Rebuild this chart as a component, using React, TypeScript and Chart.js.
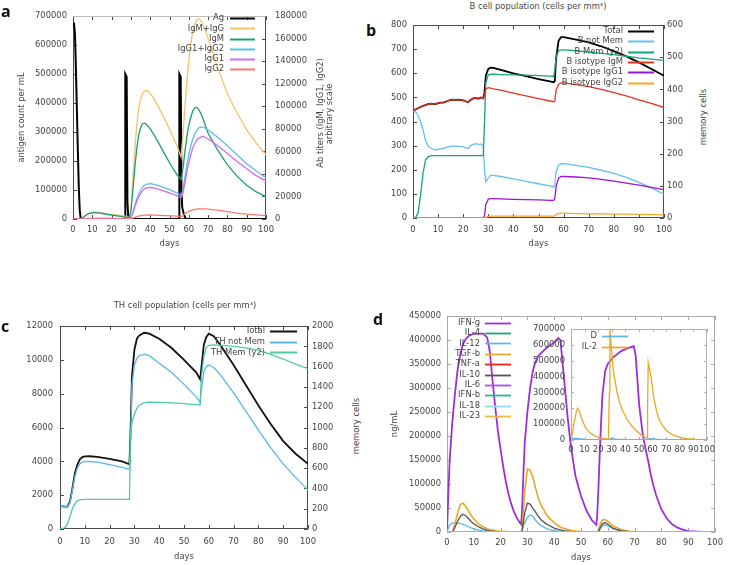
import React, { useEffect, useRef } from 'react';
import { Chart, registerables } from 'chart.js';

Chart.register(...registerables);

const FONT = "'DejaVu Sans', 'Liberation Sans', sans-serif";
const FS = 8.4;
const TXT = '#444444';

const dayTicks = [0, 10, 20, 30, 40, 50, 60, 70, 80, 90, 100];

// ---------------- Panel a ----------------
const aLeftTicks = [0, 100000, 200000, 300000, 400000, 500000, 600000, 700000];
const aRightTicks = [0, 20000, 40000, 60000, 80000, 100000, 120000, 140000, 160000, 180000];
const agDays = [0, 0.5, 1, 1.5, 2, 2.5, 3, 3.5, 4, 27, 27.1, 27.8, 28.2, 28.6, 29.2, 55, 55.1, 55.8, 56.2, 56.6, 57.5, 58.5, 100];
const agValues = [670000, 677000, 640000, 520000, 380000, 240000, 110000, 30000, 0, 0, 500000, 490000, 60000, 10000, 0, 0, 500000, 490000, 100000, 40000, 15000, 0, 0];
const abDays = [0, 4, 6, 8, 11, 14, 18, 22, 27, 28, 29, 30, 31, 32, 33, 34, 35, 36, 37, 38, 40, 42, 45, 48, 51, 54, 56, 57, 58, 59, 60, 61, 62, 63, 64, 65, 66, 67, 68, 70, 72, 75, 80, 85, 90, 95, 100];
const igmIggValues = [0, 0, 2500, 5000, 6200, 5800, 4600, 3600, 2500, 1600, 1000, 8000, 35000, 60000, 82000, 98000, 106000, 111000, 113500, 114000, 111500, 106500, 97000, 87000, 76000, 64000, 55000, 75000, 100000, 122000, 140000, 155000, 166000, 172000, 176000, 177500, 176500, 174000, 170000, 160000, 150000, 134000, 111000, 94000, 79000, 67000, 57000];
const igmValues = [0, 0, 2400, 4800, 5600, 5200, 4000, 3000, 1700, 1000, 500, 7000, 25000, 45000, 62000, 74000, 81000, 84500, 85000, 84000, 80000, 74500, 65500, 56000, 47000, 39000, 35000, 45000, 60000, 73000, 83000, 90000, 95500, 98500, 99000, 97500, 94500, 90500, 86000, 76000, 70000, 61000, 48000, 38000, 30000, 24000, 19800];
const igg12Values = [0, 0, 300, 500, 600, 600, 550, 500, 400, 300, 100, 1500, 6000, 12000, 17500, 22000, 25500, 28000, 29800, 30800, 31300, 30800, 29200, 27300, 25300, 23000, 21000, 26000, 37000, 48000, 57000, 64500, 70500, 75000, 78500, 80500, 81500, 81500, 81000, 79000, 76500, 72500, 65000, 57000, 49000, 42500, 36400];
const igg1Values = [0, 0, 200, 400, 500, 500, 450, 400, 300, 200, 100, 1200, 5000, 10500, 15500, 19500, 22500, 25000, 26500, 27500, 28000, 27500, 26000, 24300, 22500, 20500, 19000, 23000, 32000, 42000, 50000, 57000, 62500, 66500, 69500, 71500, 72500, 73000, 72800, 71000, 68800, 65000, 58000, 51000, 44500, 38500, 33600];
const igg2Values = [0, 0, 0, 100, 100, 100, 100, 100, 100, 100, 0, 300, 800, 1500, 2100, 2600, 2900, 3200, 3400, 3500, 3600, 3500, 3300, 3000, 2800, 2500, 2200, 3000, 4800, 5800, 6800, 7400, 8000, 8400, 8700, 8900, 9000, 9000, 9000, 8800, 8400, 7800, 6500, 5300, 4300, 3600, 3000];

// ---------------- Panel b ----------------
const bLeftTicks = [0, 100, 200, 300, 400, 500, 600, 700, 800];
const bRightTicks = [0, 100, 200, 300, 400, 500, 600];
const bDays = [0, 1, 2, 3, 4, 5, 6, 7, 8, 9, 10, 11, 12, 13, 14, 15, 16, 17, 18, 19, 20, 21, 22, 23, 24, 25, 26, 27, 28, 28.5, 29, 30, 31, 32, 35, 40, 45, 50, 55, 56, 56.5, 57, 58, 59, 60, 65, 70, 75, 80, 85, 90, 95, 100];
const bTotal = [445, 450, 455, 460, 465, 468, 472, 474, 473, 472, 476, 478, 478, 482, 486, 490, 491, 490, 491, 490, 488, 484, 480, 490, 496, 498, 494, 500, 496, 520, 590, 618, 623, 622, 614, 600, 588, 576, 565, 563, 568, 660, 735, 750, 750, 740, 728, 712, 692, 670, 645, 618, 590];
const bNotMem = [445, 440, 425, 400, 365, 320, 298, 290, 285, 282, 285, 288, 288, 292, 295, 298, 298, 298, 297, 297, 295, 292, 288, 300, 305, 308, 305, 307, 300, 200, 150, 165, 178, 177, 172, 162, 152, 142, 132, 128, 135, 190, 220, 225, 225, 218, 210, 198, 185, 168, 148, 125, 98];
const bMem = [0, 2, 15, 70, 140, 180, 190, 193, 194, 194, 194, 194, 194, 194, 194, 194, 194, 194, 194, 194, 194, 194, 194, 194, 194, 194, 194, 194, 194, 300, 420, 445, 447, 447, 446, 445, 444, 443, 441, 440, 460, 500, 520, 523, 523, 520, 516, 512, 508, 503, 498, 494, 490];
const bIgM = [445, 450, 455, 460, 465, 468, 472, 474, 473, 472, 476, 478, 478, 482, 486, 490, 491, 490, 491, 490, 488, 484, 480, 490, 496, 498, 494, 500, 496, 510, 535, 540, 538, 535, 530, 518, 506, 495, 484, 482, 485, 530, 555, 560, 560, 553, 545, 533, 520, 506, 490, 475, 458];
const bIgG1 = [0, 0, 0, 0, 0, 0, 0, 0, 0, 0, 0, 0, 0, 0, 0, 0, 0, 0, 0, 0, 0, 0, 0, 0, 0, 0, 0, 0, 0, 10, 55, 78, 80, 80, 79, 77, 76, 75, 73, 73, 80, 130, 165, 172, 172, 170, 166, 160, 153, 145, 136, 127, 118];
const bIgG2 = [0, 0, 0, 0, 0, 0, 0, 0, 0, 0, 0, 0, 0, 0, 0, 0, 0, 0, 0, 0, 0, 0, 0, 0, 0, 0, 0, 0, 0, 0, 3, 7, 8, 8, 8, 8, 8, 8, 8, 8, 9, 15, 19, 20, 20, 18, 17, 17, 16, 16, 15, 14, 13];

// ---------------- Panel c ----------------
const cLeftTicks = [0, 2000, 4000, 6000, 8000, 10000, 12000];
const cRightTicks = [0, 200, 400, 600, 800, 1000, 1200, 1400, 1600, 1800, 2000];
const cDays = [0, 1, 2, 3, 4, 5, 6, 7, 8, 9, 10, 12, 15, 20, 25, 28, 28.5, 29, 30, 31, 32, 34, 36, 40, 45, 50, 55, 56.5, 57, 58, 59, 60, 62, 65, 70, 75, 80, 85, 90, 95, 100];
const cTotal = [1350, 1340, 1320, 1320, 1600, 2400, 3300, 3800, 4120, 4250, 4290, 4300, 4260, 4150, 4000, 3830, 6000, 9000, 10600, 11250, 11450, 11600, 11550, 11250, 10700, 10000, 9250, 8850, 9500, 10900, 11350, 11550, 11400, 10800, 9700, 8500, 7300, 6200, 5200, 4450, 3850];
const cNotMem = [1350, 1340, 1320, 1320, 1550, 2300, 3100, 3600, 3850, 3950, 3980, 3990, 3950, 3800, 3650, 3520, 5500, 8500, 9700, 10100, 10250, 10320, 10250, 9800, 9250, 8550, 7800, 7500, 8200, 9300, 9600, 9700, 9550, 9050, 8050, 6950, 5850, 4800, 3850, 3050, 2300];
const cMem = [0, 5, 15, 50, 120, 200, 250, 278, 288, 290, 292, 292, 292, 292, 292, 292, 950, 1050, 1130, 1190, 1220, 1245, 1250, 1248, 1243, 1236, 1226, 1222, 1500, 1700, 1790, 1810, 1815, 1810, 1800, 1785, 1760, 1720, 1675, 1625, 1580];

// ---------------- Panel d ----------------
const dLeftTicks = [0, 50000, 100000, 150000, 200000, 250000, 300000, 350000, 400000, 450000];
const dDays = [0, 0.5, 1, 2, 3, 4, 5, 6, 7, 8, 9, 10, 12, 13.5, 15, 16, 17, 18, 19, 20, 21, 22, 23, 24, 25, 26, 27, 27.7, 28, 28.5, 29, 30, 31, 32, 33, 34, 35, 37, 38, 40, 41.5, 42.3, 43, 44, 45, 46, 47, 48, 50, 52, 54, 55.7, 56, 56.5, 57, 57.5, 58, 59, 60, 62, 65, 68, 69.7, 70.4, 71, 71.7, 73, 74, 75, 76, 77, 78, 80, 82, 84, 86, 88, 90, 95, 100];
const ifngValues = [0, 80000, 150000, 230000, 290000, 340000, 372000, 392000, 402000, 408000, 411000, 413000, 413500, 413500, 405000, 375000, 315000, 260000, 210000, 172000, 135000, 103000, 78000, 58000, 42000, 30000, 21000, 16000, 45000, 120000, 185000, 250000, 300000, 335000, 355000, 366000, 372000, 383000, 387000, 395000, 404000, 400000, 360000, 300000, 240000, 190000, 150000, 115000, 75000, 45000, 25000, 15000, 30000, 90000, 165000, 230000, 285000, 335000, 350000, 364000, 377000, 384000, 387000, 367000, 320000, 265000, 205000, 175000, 150000, 120000, 97000, 77000, 47000, 28000, 16000, 9000, 5000, 2000, 0, 0];
const tgfbValues = [0, 0, 0, 0, 18000, 40000, 58000, 60000, 53000, 44000, 35000, 27000, 16000, 11000, 7000, 5000, 4000, 3000, 2200, 1600, 1200, 900, 600, 400, 300, 200, 100, 0, 0, 40000, 85000, 131000, 129000, 115000, 92000, 72000, 57000, 37000, 30000, 19000, 13000, 10500, 9000, 6500, 5000, 3800, 2800, 2000, 1000, 500, 200, 0, 0, 3000, 13000, 20000, 25000, 26000, 22000, 12500, 5000, 1500, 800, 500, 400, 300, 200, 100, 0, 0, 0, 0, 0, 0, 0, 0, 0, 0, 0, 0];
const il10Values = [0, 0, 0, 0, 10000, 23000, 33000, 37000, 34000, 28000, 22000, 17000, 10000, 6500, 3500, 2500, 1800, 1200, 800, 500, 300, 200, 100, 50, 0, 0, 0, 0, 2000, 20000, 40000, 60000, 58000, 50000, 42000, 33000, 26000, 17000, 14000, 8000, 5500, 4500, 3500, 2500, 1800, 1200, 800, 500, 200, 100, 0, 0, 0, 1500, 7000, 12000, 17000, 20000, 16000, 7500, 2500, 700, 400, 300, 200, 100, 0, 0, 0, 0, 0, 0, 0, 0, 0, 0, 0, 0, 0, 0];
const il12Values = [0, 8000, 15000, 18500, 18500, 18500, 17500, 16000, 13500, 11000, 8500, 6500, 3800, 2500, 1400, 900, 600, 400, 200, 100, 0, 0, 0, 0, 0, 0, 0, 0, 3000, 12000, 20000, 30000, 35500, 33000, 25000, 18000, 13500, 7500, 5500, 3000, 1800, 1300, 1000, 600, 400, 200, 100, 0, 0, 0, 0, 0, 0, 1000, 5000, 9000, 13000, 15000, 12500, 7000, 2500, 700, 300, 200, 100, 0, 0, 0, 0, 0, 0, 0, 0, 0, 0, 0, 0, 0, 0, 0];
const flatDays = [0, 100];
const il4Values = [0, 0];
const tnfaValues = [0, 0];
const il6Values = [0, 0];
const ifnbValues = [0, 0];
const il18Values = [0, 0];
const il23Values = [0, 0];

// inset
const insetTicks = [0, 100000, 200000, 300000, 400000, 500000, 600000, 700000];
const il2Days = [0, 1, 2, 3, 4, 5, 6, 7, 8, 10, 12, 14, 16, 18, 20, 24, 27.5, 28.2, 28.6, 29, 30, 31, 32, 34, 36, 38, 40, 42, 45, 48, 51, 54, 56, 56.3, 56.8, 57.5, 59, 61, 63, 65, 67, 70, 73, 76, 80, 85, 90, 95, 100];
const il2Values = [0, 40000, 95000, 140000, 180000, 200000, 185000, 160000, 132000, 90000, 62000, 45000, 33000, 25000, 18000, 10000, 6000, 300000, 700000, 650000, 550000, 445000, 390000, 295000, 230000, 185000, 150000, 120000, 85000, 58000, 37000, 20000, 12000, 200000, 490000, 460000, 390000, 260000, 180000, 125000, 95000, 62000, 42000, 28000, 16000, 9000, 5000, 2000, 0];
const dInsetDays = [0, 1, 3, 6, 10, 20, 28, 29, 30, 33, 40, 56, 57.5, 59, 62, 70, 80, 100];
const dInsetValues = [0, 8000, 10000, 8000, 4000, 1000, 0, 8000, 10000, 6000, 2000, 0, 8000, 9000, 5000, 1000, 0, 0];

// ---------------- helpers ----------------
const tickFont = { family: FONT, size: FS };

const framePlugin = {
  id: 'gframe',
  beforeDatasetsDraw(chart: any, _a: any, o: any) {
    if (!o || !o.color) return;
    const { ctx, chartArea: ca, scales } = chart;
    const L = ca.left, R = ca.right, T = ca.top, B = ca.bottom;
    const len = o.len || 4;
    ctx.save();
    ctx.lineWidth = 1;
    ctx.strokeStyle = o.color;
    ctx.beginPath();
    const xs = scales.x;
    xs.ticks.forEach((t: any) => {
      const px = Math.round(xs.getPixelForValue(t.value)) + 0.5;
      ctx.moveTo(px, B); ctx.lineTo(px, B - len);
      ctx.moveTo(px, T); ctx.lineTo(px, T + len);
    });
    const ys = scales.y;
    ys.ticks.forEach((t: any) => {
      const py = Math.round(ys.getPixelForValue(t.value)) + 0.5;
      ctx.moveTo(L, py); ctx.lineTo(L + len, py);
      if (!scales.y2) { ctx.moveTo(R, py); ctx.lineTo(R - len, py); }
    });
    if (scales.y2) {
      const y2 = scales.y2;
      y2.ticks.forEach((t: any) => {
        const py = Math.round(y2.getPixelForValue(t.value)) + 0.5;
        ctx.moveTo(R, py); ctx.lineTo(R - len, py);
      });
    }
    ctx.stroke();
    ctx.beginPath();
    ctx.moveTo(L + 0.5, T); ctx.lineTo(L + 0.5, B - 0.5); ctx.lineTo(R - 0.5, B - 0.5); ctx.lineTo(R - 0.5, T);
    ctx.stroke();
    ctx.strokeStyle = o.topColor || o.color;
    ctx.beginPath();
    ctx.moveTo(L, T + 0.5); ctx.lineTo(R, T + 0.5);
    ctx.stroke();
    ctx.restore();
  },
};

const keyPlugin = {
  id: 'gkey',
  afterDatasetsDraw(chart: any, _a: any, o: any) {
    if (!o || o.textRight == null) return;
    const ctx = chart.ctx;
    ctx.save();
    ctx.font = `${FS}px ${FONT}`;
    ctx.textAlign = 'right';
    ctx.textBaseline = 'middle';
    chart.data.datasets.forEach((ds: any, i: number) => {
      const y = o.top + i * o.step;
      ctx.fillStyle = TXT;
      ctx.fillText(ds.label, o.textRight, y);
      ctx.strokeStyle = ds.borderColor;
      ctx.lineWidth = o.lw || 2;
      ctx.beginPath();
      ctx.moveTo(o.x0, Math.round(y) + 0.5);
      ctx.lineTo(o.x1, Math.round(y) + 0.5);
      ctx.stroke();
    });
    ctx.restore();
  },
};

function series(label: string, xs: number[], ys: number[], color: string, width = 1.3, axis = 'y') {
  return {
    label,
    data: xs.map((x, i) => ({ x, y: ys[i] })),
    borderColor: color,
    backgroundColor: color,
    borderWidth: width,
    pointRadius: 0,
    tension: 0,
    fill: false,
    yAxisID: axis,
  };
}

function xAxis(box: any, spec: any) {
  return {
    type: 'linear', position: 'bottom', min: spec.min, max: spec.max,
    afterBuildTicks: (s: any) => { s.ticks = spec.ticks.map((v: number) => ({ value: v })); },
    afterFit: (s: any) => { s.height = box.cy + box.ch - box.B; },
    ticks: { font: tickFont, color: TXT, padding: spec.pad, maxRotation: 0, minRotation: 0, autoSkip: false, callback: (v: any) => String(v) },
    grid: { display: false, drawTicks: false },
    border: { display: false },
    title: spec.title
      ? { display: true, text: spec.title, font: tickFont, color: TXT, padding: { top: 0, bottom: spec.titlePad } }
      : { display: false },
  };
}

function yAxis(box: any, spec: any, pos: string) {
  return {
    type: 'linear', position: pos, min: spec.min, max: spec.max,
    afterBuildTicks: (s: any) => { s.ticks = spec.ticks.map((v: number) => ({ value: v })); },
    afterFit: (s: any) => { s.width = pos === 'left' ? box.L - box.cx : box.cx + box.cw - box.R; },
    ticks: { font: tickFont, color: TXT, padding: spec.pad, autoSkip: false, callback: (v: any) => String(v) },
    grid: { display: false, drawTicks: false },
    border: { display: false },
    title: spec.title
      ? { display: true, text: spec.title, font: tickFont, color: TXT, padding: { top: spec.titlePad, bottom: 0 } }
      : { display: false },
  };
}

function makeConfig(box: any, datasets: any[], axes: any, frame: any, key: any) {
  const n = datasets.length;
  datasets.forEach((d, i) => { d.order = n - i; });
  const scales: any = { x: xAxis(box, axes.x), y: yAxis(box, axes.y, 'left') };
  if (axes.y2) scales.y2 = yAxis(box, axes.y2, 'right');
  return {
    type: 'line',
    data: { datasets },
    options: {
      responsive: false,
      animation: false,
      events: [],
      layout: { padding: { top: box.T - box.cy, right: axes.y2 ? 0 : box.cx + box.cw - box.R, left: 0, bottom: 0 } },
      plugins: {
        legend: { display: false },
        tooltip: { enabled: false },
        gframe: frame,
        gkey: key
          ? { ...key, textRight: key.textRight - box.cx, top: key.top - box.cy, x0: key.x0 - box.cx, x1: key.x1 - box.cx }
          : false,
      },
      scales,
    },
    plugins: [framePlugin, keyPlugin],
  };
}

function ChartBox({ box, make }: { box: any; make: () => any }) {
  const ref = useRef<HTMLCanvasElement>(null);
  useEffect(() => {
    const chart = new Chart(ref.current as HTMLCanvasElement, make());
    return () => chart.destroy();
  }, []);
  return (
    <canvas
      ref={ref}
      width={box.cw}
      height={box.ch}
      style={{ position: 'absolute', left: box.cx, top: box.cy, width: box.cw, height: box.ch }}
    />
  );
}

// ---------------- boxes ----------------
const boxA = { cx: 10, cy: 2, cw: 305, ch: 253, L: 73, T: 10, R: 266, B: 219 };
const boxB = { cx: 380, cy: 14, cw: 310, ch: 241, L: 413, T: 22, R: 664, B: 218 };
const boxC = { cx: 10, cy: 314, cw: 330, ch: 251, L: 60, T: 322, R: 308, B: 529 };
const boxD = { cx: 380, cy: 305, cw: 349, ch: 260, L: 447, T: 313, R: 718, B: 532 };
const boxI = { cx: 528, cy: 318, cw: 192, ch: 142, L: 571, T: 326, R: 712, B: 440 };

const makeA = () => makeConfig(
  boxA,
  [
    series('Ag', agDays, agValues, '#000000', 2, 'y'),
    series('IgM+IgG', abDays, igmIggValues, '#f3c36a', 1.3, 'y2'),
    series('IgM', abDays, igmValues, '#1b9e70', 1.3, 'y2'),
    series('IgG1+IgG2', abDays, igg12Values, '#5dbcee', 1.3, 'y2'),
    series('IgG1', abDays, igg1Values, '#d06cf2', 1.3, 'y2'),
    series('IgG2', abDays, igg2Values, '#fa7a6a', 1.3, 'y2'),
  ],
  {
    x: { min: 0, max: 100, ticks: dayTicks, pad: 6, title: 'days', titlePad: 6 },
    y: { min: 0, max: 700000, ticks: aLeftTicks, pad: 6, title: 'antigen count per mL', titlePad: 7 },
    y2: { min: 0, max: 180000, ticks: aRightTicks, pad: 9 },
  },
  { color: '#4a4a4a', topColor: '#bdbdbd', len: 4 },
  { textRight: 224, top: 18.3, step: 10.1, x0: 230, x1: 255, lw: 2 },
);

const makeB = () => makeConfig(
  boxB,
  [
    series('Total', bDays, bTotal, '#000000', 1.8, 'y'),
    series('B not Mem', bDays, bNotMem, '#64c0f0', 1.3, 'y'),
    series('B Mem (y2)', bDays, bMem, '#1aa377', 1.3, 'y2'),
    series('B isotype IgM', bDays, bIgM, '#e8321e', 1.3, 'y'),
    series('B isotype IgG1', bDays, bIgG1, '#9b14d8', 1.3, 'y'),
    series('B isotype IgG2', bDays, bIgG2, '#f5a623', 1.3, 'y'),
  ],
  {
    x: { min: 0, max: 100, ticks: dayTicks, pad: 7, title: 'days', titlePad: 6 },
    y: { min: 0, max: 800, ticks: bLeftTicks, pad: 6 },
    y2: { min: 0, max: 600, ticks: bRightTicks, pad: 3 },
  },
  { color: '#4a4a4a', len: 4 },
  { textRight: 623, top: 30.7, step: 10.4, x0: 628, x1: 654, lw: 2 },
);

const makeC = () => makeConfig(
  boxC,
  [
    series('Total', cDays, cTotal, '#111111', 1.8, 'y'),
    series('TH not Mem', cDays, cNotMem, '#5ab7ec', 1.3, 'y'),
    series('TH Mem (y2)', cDays, cMem, '#4fcba3', 1.3, 'y2'),
  ],
  {
    x: { min: 0, max: 100, ticks: dayTicks, pad: 8, title: 'days', titlePad: 3 },
    y: { min: 0, max: 12000, ticks: cLeftTicks, pad: 7 },
    y2: { min: 0, max: 2000, ticks: cRightTicks, pad: 4 },
  },
  { color: '#4a4a4a', len: 4 },
  { textRight: 265, top: 331, step: 10.7, x0: 270, x1: 297, lw: 2 },
);

const makeD = () => makeConfig(
  boxD,
  [
    series('IFN-g', dDays, ifngValues, '#9b30d9', 1.8, 'y'),
    series('IL-4', flatDays, il4Values, '#17a673', 1.3, 'y'),
    series('IL-12', dDays, il12Values, '#57b8ea', 1.3, 'y'),
    series('TGF-b', dDays, tgfbValues, '#e9a825', 1.6, 'y'),
    series('TNF-a', flatDays, tnfaValues, '#f02020', 1.3, 'y'),
    series('IL-10', dDays, il10Values, '#555555', 1.3, 'y'),
    series('IL-6', flatDays, il6Values, '#b44cf0', 1.0, 'y'),
    series('IFN-b', flatDays, ifnbValues, '#2ab88a', 1.0, 'y'),
    series('IL-18', flatDays, il18Values, '#9ad8f5', 1.0, 'y'),
    series('IL-23', flatDays, il23Values, '#f0b840', 1.0, 'y'),
  ],
  {
    x: { min: 0, max: 100, ticks: dayTicks, pad: 6, title: 'days', titlePad: 2 },
    y: { min: 0, max: 450000, ticks: dLeftTicks, pad: 6, title: 'ng/mL', titlePad: 10 },
  },
  { color: '#a8a8a8', len: 4 },
  { textRight: 480, top: 322.7, step: 10.37, x0: 485, x1: 511, lw: 1.8 },
);

const makeI = () => makeConfig(
  boxI,
  [
    series('D', dInsetDays, dInsetValues, '#5ab7ec', 1.3, 'y'),
    series('IL-2', il2Days, il2Values, '#e9a825', 1.3, 'y'),
  ],
  {
    x: { min: 0, max: 100, ticks: dayTicks, pad: 5 },
    y: { min: 0, max: 700000, ticks: insetTicks, pad: 6 },
  },
  { color: '#b0b0b0', len: 3 },
  { textRight: 597, top: 336, step: 11, x0: 602, x1: 628, lw: 1.8 },
);

const txt: React.CSSProperties = { position: 'absolute', whiteSpace: 'nowrap', fontSize: FS, color: TXT, lineHeight: 1 };
const center: React.CSSProperties = { ...txt, transform: 'translate(-50%, -50%)' };
const rot: React.CSSProperties = { ...txt, transform: 'translate(-50%, -50%) rotate(-90deg)' };
const letter: React.CSSProperties = { position: 'absolute', fontFamily: "'Open Sans', 'DejaVu Sans', sans-serif", fontSize: 16, fontWeight: 'bold', lineHeight: '16px', color: '#111' };

export default function App() {
  return (
    <div style={{ position: 'fixed', left: 0, top: 0, width: 729, height: 565, background: '#ffffff', overflow: 'hidden', fontFamily: FONT }}>
      <ChartBox box={boxA} make={makeA} />
      <ChartBox box={boxB} make={makeB} />
      <ChartBox box={boxC} make={makeC} />
      <ChartBox box={boxD} make={makeD} />
      <ChartBox box={boxI} make={makeI} />

      <div style={{ ...letter, left: 1, top: 3 }}>a</div>
      <div style={{ ...letter, left: 366, top: 22 }}>b</div>
      <div style={{ ...letter, left: 1, top: 318 }}>c</div>
      <div style={{ ...letter, left: 373, top: 311 }}>d</div>

      <div style={{ ...center, left: 538, top: 6 }}>B cell population (cells per mm³)</div>
      <div style={{ ...center, left: 185, top: 305 }}>TH cell population (cells per mm³)</div>

      <div style={{ ...rot, left: 320, top: 113 }}>Ab titers (IgM, IgG1, IgG2)</div>
      <div style={{ ...rot, left: 329, top: 114 }}>arbitrary scale</div>
      <div style={{ ...rot, left: 703, top: 117 }}>memory cells</div>
      <div style={{ ...rot, left: 356, top: 426 }}>memory cells</div>
    </div>
  );
}
